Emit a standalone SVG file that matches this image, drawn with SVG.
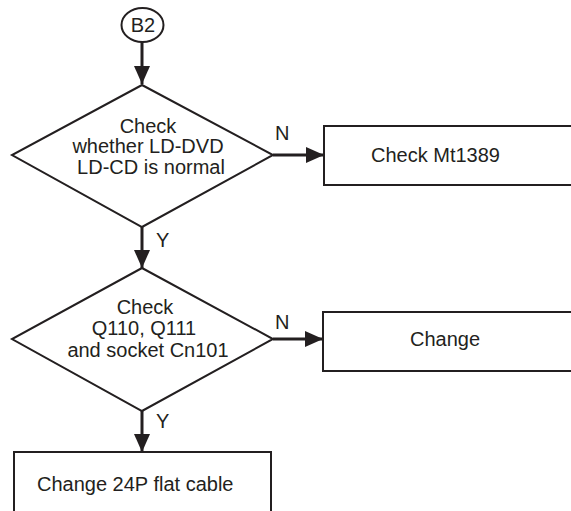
<svg xmlns="http://www.w3.org/2000/svg" width="571" height="511" viewBox="0 0 571 511">
<style>
.shape{fill:#fff;stroke:#231f20;stroke-width:2}
.conn{stroke:#231f20;stroke-width:3;fill:none}
text{font-family:"Liberation Sans",Arial,sans-serif;font-size:20px;fill:#231f20}
.c{text-anchor:middle}
</style>
<defs>
<marker id="arr" markerUnits="userSpaceOnUse" markerWidth="18" markerHeight="16" refX="18" refY="8" orient="auto">
<path d="M0,0 L18,8 L0,16 z" fill="#231f20"/>
</marker>
</defs>
<rect width="571" height="511" fill="#fff"/>
<g id="connectors">
<line class="conn" x1="142" y1="42" x2="142" y2="84" marker-end="url(#arr)"/>
<line class="conn" x1="273" y1="155" x2="324" y2="155" marker-end="url(#arr)"/>
<line class="conn" x1="142" y1="227" x2="142" y2="268" marker-end="url(#arr)"/>
<line class="conn" x1="273" y1="339" x2="323" y2="339" marker-end="url(#arr)"/>
<line class="conn" x1="142" y1="411" x2="142" y2="452" marker-end="url(#arr)"/>
<text x="275" y="140">N</text>
<text x="156" y="247">Y</text>
<text x="275" y="329">N</text>
<text x="156" y="428">Y</text>
</g>
<g id="start">
<ellipse class="shape" cx="142.5" cy="25" rx="21" ry="17"/>
<text class="c" x="143" y="32">B2</text>
</g>
<g id="decision1">
<polygon class="shape" points="142,85 273,155 142,227 12,155"/>
<text class="c" x="148" y="133">Check</text>
<text class="c" x="148" y="153">whether LD-DVD</text>
<text class="c" x="151" y="174">LD-CD is normal</text>
</g>
<g id="box1">
<rect class="shape" x="324" y="126" width="260" height="59"/>
<text x="371" y="162">Check Mt1389</text>
</g>
<g id="decision2">
<polygon class="shape" points="142,268 273,339 142,411 12,339"/>
<text class="c" x="145" y="314">Check</text>
<text class="c" x="144" y="335">Q110, Q111</text>
<text class="c" x="148" y="357">and socket Cn101</text>
</g>
<g id="box2">
<rect class="shape" x="323" y="312" width="260" height="59"/>
<text x="410" y="346">Change</text>
</g>
<g id="box3">
<rect class="shape" x="14" y="452" width="257" height="70"/>
<text x="37" y="491">Change 24P flat cable</text>
</g>
</svg>
